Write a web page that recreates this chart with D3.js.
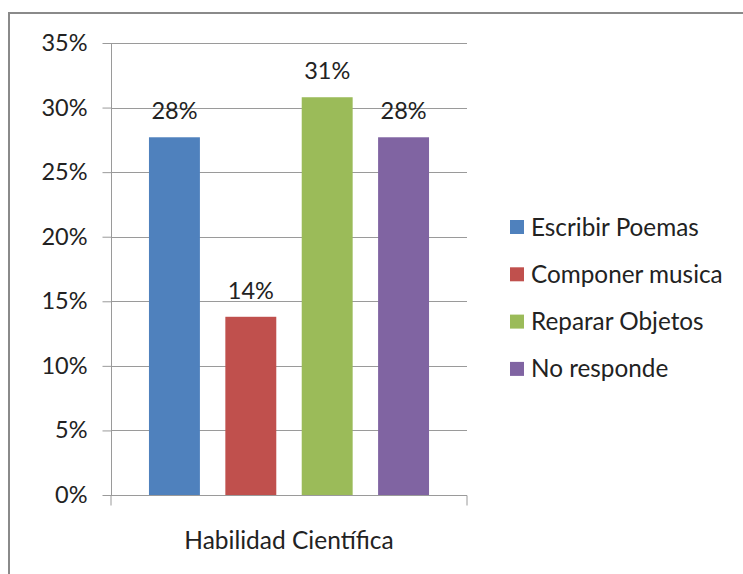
<!DOCTYPE html>
<html><head><meta charset="utf-8">
<script src="https://cdn.jsdelivr.net/npm/d3@7"></script>
<style>body{margin:0;background:#fff}svg{display:block}text{font-family:Lato,"Open Sans",sans-serif;fill:#222}</style>
</head><body><svg id="c" width="743" height="574"></svg>
<script>
const categories = ["Habilidad Científica"];
const series = ["Escribir Poemas","Componer musica","Reparar Objetos","No responde"];
const values = [27.7, 13.8, 30.8, 27.7];
const colors = ["#4F81BD","#C0504D","#9BBB59","#8064A2"];
const yTicks = [0,5,10,15,20,25,30,35];

const FS = 23.5;
const svg = d3.select("#c");
svg.append("rect").attr("x",9).attr("y",13).attr("width",740).attr("height",570)
  .attr("fill","none").attr("stroke","#8a8a8a").attr("stroke-width",2);

const L=111,R=467,T=43,B=495;
const y = d3.scaleLinear().domain([0,35]).range([B,T]);
const x0 = d3.scaleBand().domain(categories).range([L,R]);
const x1 = d3.scaleBand().domain(series).range([0,x0.bandwidth()]).paddingInner(0.333).paddingOuter(0.497);

// gridlines
svg.append("g").selectAll("line").data(yTicks).join("line")
  .attr("x1",L).attr("x2",R).attr("y1",d=>Math.round(y(d))+0.5).attr("y2",d=>Math.round(y(d))+0.5)
  .attr("stroke","#9a9a9a").attr("stroke-width",1);

// y axis
const ya = svg.append("g").attr("transform",`translate(${L+0.5},0)`)
  .call(d3.axisLeft(y).tickValues(yTicks).tickSize(9).tickPadding(15).tickFormat(d=>d+"%"));
ya.select(".domain").attr("stroke","#9a9a9a").attr("d",`M0,${T}V${B}`);
ya.selectAll(".tick line").attr("stroke","#9a9a9a");
ya.selectAll(".tick text").attr("font-size",FS).attr("fill","#222").attr("font-family","Lato,sans-serif");

// bars
const g = svg.append("g").attr("transform",`translate(${x0(categories[0])},0)`);
g.selectAll("rect").data(series).join("rect")
  .attr("x",d=>x1(d)).attr("width",x1.bandwidth())
  .attr("y",(d,i)=>y(values[i])).attr("height",(d,i)=>B-y(values[i]))
  .attr("fill",(d,i)=>colors[i]);
g.selectAll("text.lbl").data(series).join("text").attr("class","lbl")
  .attr("x",d=>x1(d)+x1.bandwidth()/2).attr("y",(d,i)=>y(values[i])-18)
  .attr("text-anchor","middle").attr("font-size",FS)
  .text((d,i)=>Math.round(values[i])+"%");

// x axis
const xa = svg.append("g").attr("transform",`translate(0,${B+0.5})`)
  .call(d3.axisBottom(x0).tickSize(0).tickPadding(36));
xa.select(".domain").attr("stroke","#9a9a9a").attr("d",`M${L},10V0H${R}V10`);
xa.selectAll(".tick text").attr("font-size",24.5).attr("fill","#222").attr("font-family","Lato,sans-serif");

// legend
const lg = svg.append("g").selectAll("g").data(series).join("g")
  .attr("transform",(d,i)=>`translate(510,${227+i*47.3})`);
lg.append("rect").attr("x",0).attr("y",-7).attr("width",14).attr("height",14).attr("fill",(d,i)=>colors[i]);
lg.append("text").attr("x",21).attr("dy","0.35em").attr("font-size",24.3).text(d=>d);
</script></body></html>
